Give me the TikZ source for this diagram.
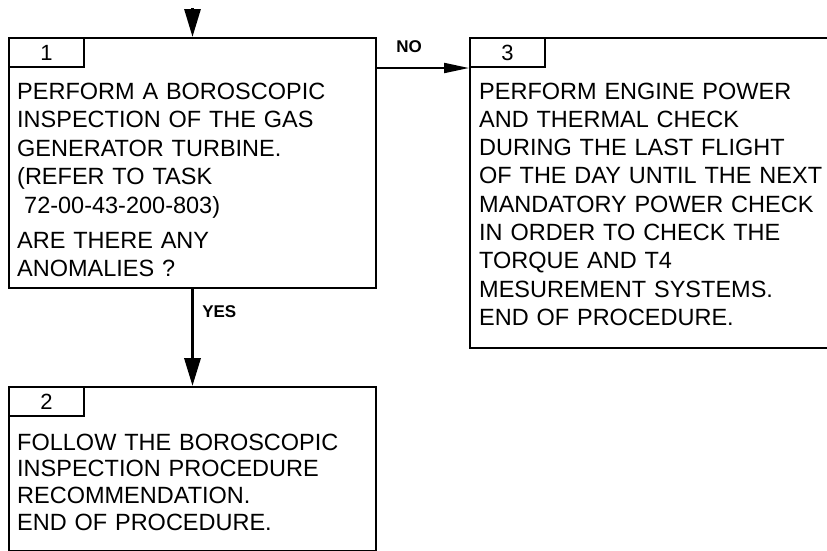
\documentclass[tikz,border=0pt]{standalone}
\usepackage{fontspec}
\setmainfont{Liberation Sans}
\usetikzlibrary{arrows.meta,positioning,calc}

\begin{document}
\begin{tikzpicture}[x=1pt, y=-1pt,
    box/.style={rectangle, draw, line width=2pt, anchor=north west, inner sep=0pt},
    tab/.style={rectangle, draw, line width=2pt, anchor=north west, minimum width=75pt, minimum height=29pt, inner sep=0pt, font=\fontsize{22}{24}\selectfont},
    steptext/.style={anchor=base west, inner sep=0pt, text width=370pt, align=left, font=\fontsize{23.5}{28.5}\selectfont},
    answer/.style={inner sep=0pt, font=\fontsize{17}{20}\selectfont\bfseries}]
        \useasboundingbox (0,0) rectangle (827,550);

        \node[box, minimum width=367pt, minimum height=250pt] (box1) at (8,37) {};
        \node[box, minimum width=367pt, minimum height=164pt] (box2) at (8,386) {};
        \node[box, minimum width=380pt, minimum height=310pt] (box3) at (469,37) {};

        \node[tab] (tab1) at (box1.north west) {1};
        \node[tab] (tab2) at (box2.north west) {2};
        \node[tab] (tab3) at (box3.north west) {3};

        \node[steptext] (text1) at ($(box1.north west)+(9,62)$) {PERFORM A BOROSCOPIC\\ INSPECTION OF THE GAS\\ GENERATOR TURBINE.\\ (REFER TO TASK\\ \hspace*{7pt}72-00-43-200-803)\\[6.5pt] ARE THERE ANY\\ ANOMALIES ?};
        \node[steptext, font=\fontsize{23.5}{26.7}\selectfont] (text2) at ($(box2.north west)+(9,64)$) {FOLLOW THE BOROSCOPIC\\ INSPECTION PROCEDURE\\ RECOMMENDATION.\\ END OF PROCEDURE.};
        \node[steptext, font=\fontsize{23.5}{28.3}\selectfont] (text3) at ($(box3.north west)+(10,62)$) {PERFORM ENGINE POWER\\ AND THERMAL CHECK\\ DURING THE LAST FLIGHT\\ OF THE DAY UNTIL THE NEXT\\ MANDATORY POWER CHECK\\ IN ORDER TO CHECK THE\\ TORQUE AND T4\\ MESUREMENT SYSTEMS.\\ END OF PROCEDURE.};

        \coordinate (entry) at ($(box1.north)+(0,-29)$);
        \draw[-{Triangle[length=28pt,width=16pt]}, line width=3pt] (entry) -- (box1.north);
        \draw[-{Triangle[length=28pt,width=16pt]}, line width=3.5pt] (box1.south) -- (box2.north) node[answer, right=8pt, pos=0.23] {YES};
        \draw[-{Triangle[length=25pt,width=10pt]}, line width=2pt] (tab3.south west -| box1.east) -- (tab3.south west) node[answer, above=14pt, pos=0.35] {NO};
      \end{tikzpicture}
\end{document}
